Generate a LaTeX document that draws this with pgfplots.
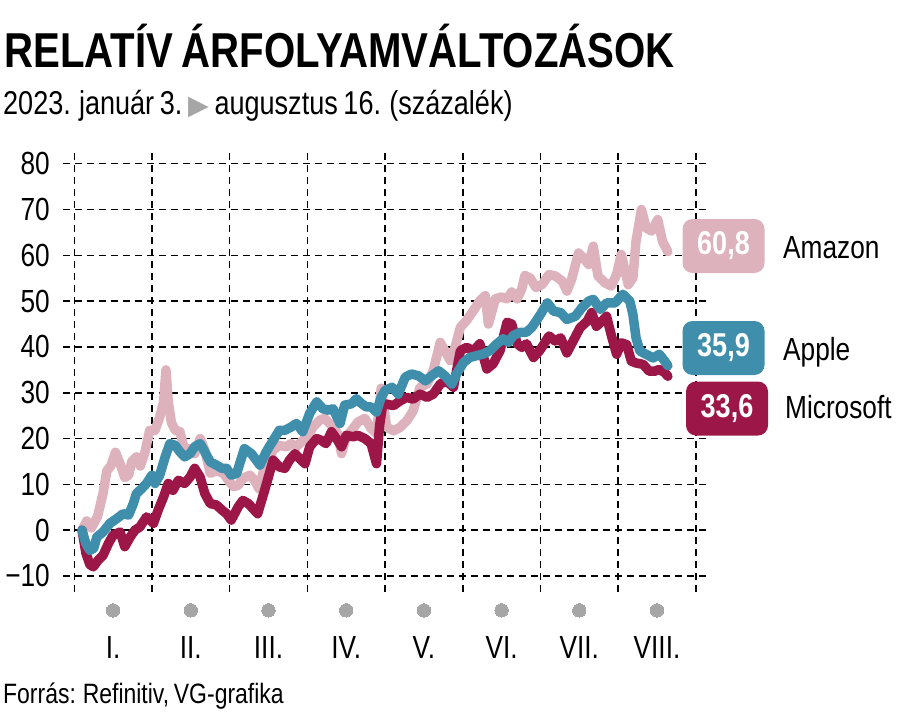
\documentclass[border=0pt]{standalone}
\usepackage{pgfplots}
\pgfplotsset{compat=1.18}
\usepackage{pgfplotstable}
\usepackage{fontspec}
\setmainfont{Liberation Sans}[FakeStretch=0.82, WordSpace=0.75]
\newfontfamily\symfont{DejaVu Sans}

\definecolor{amzn}{HTML}{DDB2BD}
\definecolor{aapl}{HTML}{3F8EAC}
\definecolor{msft}{HTML}{9C1747}
\definecolor{dotgray}{HTML}{A6A6A6}

% month index: 0 = jan 1, 1 = feb 1, ... ; value in %
\pgfplotstableread{
m v
0.10 0.0
0.16 2.0
0.22 0.5
0.30 3.0
0.37 8.0
0.42 13.0
0.47 14.0
0.53 17.0
0.59 14.5
0.65 11.5
0.70 12.0
0.74 15.0
0.80 16.0
0.85 14.0
0.91 17.0
0.97 21.8
1.04 21.8
1.10 24.7
1.15 28.0
1.18 35.0
1.21 28.0
1.25 23.5
1.30 21.8
1.36 21.5
1.42 17.5
1.49 17.8
1.55 16.7
1.62 20.0
1.68 17.5
1.75 12.4
1.83 13.0
1.92 12.4
2.00 10.5
2.05 9.5
2.11 9.8
2.17 11.3
2.26 12.0
2.32 10.9
2.38 9.0
2.45 14.0
2.56 17.5
2.64 18.5
2.73 18.2
2.79 18.9
2.86 18.2
2.94 19.6
3.01 20.4
3.07 22.5
3.16 24.0
3.22 24.4
3.31 22.9
3.39 21.1
3.44 16.7
3.50 20.4
3.57 21.8
3.65 23.6
3.74 24.4
3.82 22.2
3.89 21.1
3.95 31.0
4.02 22.5
4.11 21.7
4.19 22.4
4.28 23.9
4.36 26.0
4.45 31.2
4.54 31.9
4.62 34.8
4.71 41.0
4.77 39.2
4.84 37.0
4.90 39.9
4.97 44.3
5.05 45.8
5.14 48.0
5.22 50.1
5.29 51.2
5.33 45.0
5.42 50.5
5.50 50.9
5.57 50.5
5.63 52.0
5.70 50.5
5.76 52.7
5.80 55.6
5.87 55.0
5.94 53.0
6.02 53.6
6.11 55.8
6.19 55.5
6.28 54.4
6.34 52.2
6.40 54.7
6.49 60.5
6.55 59.5
6.62 58.0
6.68 62.0
6.74 55.5
6.83 54.0
6.91 53.3
6.98 55.8
7.04 60.2
7.13 53.6
7.19 55.1
7.23 63.1
7.30 70.0
7.36 66.0
7.43 65.3
7.51 67.8
7.57 63.1
7.64 60.8
}\amazon

\pgfplotstableread{
m v
0.10 0.0
0.15 -3.0
0.20 -4.4
0.25 -4.0
0.29 -1.5
0.37 -0.4
0.46 1.5
0.545 2.5
0.63 3.6
0.70 3.3
0.76 5.8
0.80 8.0
0.87 9.1
0.93 10.2
1.00 12.0
1.04 10.2
1.10 12.0
1.17 16.0
1.23 18.9
1.30 18.5
1.36 17.1
1.42 16.0
1.49 16.7
1.55 18.2
1.62 18.9
1.68 17.1
1.75 14.9
1.83 14.2
1.90 13.5
1.96 13.5
2.02 12.0
2.09 12.4
2.19 17.8
2.28 16.7
2.39 14.2
2.47 17.1
2.56 19.6
2.64 21.8
2.71 21.8
2.79 22.5
2.86 23.3
2.94 21.5
3.03 25.5
3.12 28.0
3.20 26.5
3.27 26.2
3.33 26.5
3.42 23.3
3.48 27.3
3.57 27.6
3.63 28.7
3.70 27.6
3.76 26.9
3.82 26.9
3.89 25.8
3.95 29.0
4.00 30.5
4.09 31.2
4.17 29.7
4.26 33.4
4.34 34.1
4.43 33.7
4.52 32.6
4.60 33.7
4.69 34.8
4.77 33.7
4.86 31.9
4.92 34.1
5.01 36.6
5.09 37.7
5.18 38.1
5.27 38.5
5.35 39.2
5.44 40.7
5.52 41.8
5.59 41.0
5.65 42.5
5.74 43.2
5.82 43.2
5.89 44.3
5.95 45.8
6.00 47.1
6.09 49.6
6.17 47.8
6.26 47.5
6.34 46.0
6.45 46.7
6.53 48.5
6.62 50.0
6.68 50.4
6.77 48.2
6.85 49.6
6.96 49.6
7.06 51.5
7.15 50.0
7.19 47.1
7.23 42.0
7.28 39.1
7.36 38.4
7.45 37.6
7.53 38.4
7.60 36.9
7.64 35.9
}\apple

\pgfplotstableread{
m v
0.10 0.0
0.15 -5.0
0.20 -7.5
0.245 -8.0
0.31 -6.5
0.37 -5.5
0.44 -2.9
0.50 -1.1
0.59 -0.4
0.65 -3.6
0.72 -1.5
0.78 0.0
0.845 0.7
0.93 2.9
1.02 1.5
1.08 4.4
1.15 7.3
1.21 10.2
1.27 8.7
1.34 10.9
1.42 10.2
1.49 11.6
1.55 13.5
1.62 11.6
1.68 8.0
1.75 5.8
1.83 5.5
1.90 4.4
1.96 3.6
2.02 2.2
2.11 5.1
2.17 6.5
2.24 5.8
2.30 4.7
2.36 3.6
2.45 8.7
2.56 15.3
2.64 13.8
2.71 13.5
2.77 15.3
2.84 16.7
2.92 15.3
2.97 14.5
3.03 18.2
3.12 20.0
3.18 19.6
3.24 18.9
3.31 21.5
3.39 19.6
3.44 18.2
3.50 20.7
3.59 20.4
3.65 20.7
3.74 20.0
3.82 18.9
3.89 14.5
3.93 22.9
3.97 27.5
4.02 27.5
4.11 27.2
4.19 28.2
4.28 29.0
4.36 28.6
4.45 29.7
4.54 29.0
4.62 29.7
4.71 31.9
4.79 32.6
4.88 31.2
4.97 39.2
5.05 39.9
5.14 39.2
5.22 40.7
5.31 35.2
5.39 36.3
5.48 39.2
5.57 45.4
5.63 45.0
5.70 40.7
5.76 39.9
5.82 40.7
5.91 37.7
5.99 39.2
6.04 40.5
6.11 42.4
6.19 41.3
6.26 42.0
6.34 38.7
6.43 41.6
6.51 44.2
6.60 45.6
6.66 47.5
6.72 44.5
6.79 45.6
6.85 46.7
6.91 42.7
6.98 38.4
7.04 40.9
7.11 40.5
7.17 36.9
7.23 36.5
7.32 36.2
7.40 34.7
7.47 34.7
7.53 35.1
7.60 34.4
7.64 33.6
}\microsoft

\begin{document}
\begin{tikzpicture}[x=1pt,y=1pt]
\path[use as bounding box] (0,0) rectangle (900,-725);

\node[anchor=base west, inner sep=0, font=\fontsize{49}{56}\selectfont\bfseries]
  at (4,-68) {RELATÍV ÁRFOLYAMVÁLTOZÁSOK};
\node[anchor=base west, inner sep=0, font=\fontsize{33}{38}\selectfont]
  at (3,-114) {2023. január 3.\ {\symfont\color{dotgray}\fontsize{27}{27}\selectfont ▶}\ augusztus 16. (százalék)};

\begin{axis}[
    at={(63pt,-592pt)}, anchor=south west,
    scale only axis,
    width=647.6pt, height=442pt,
    xmin=-0.145, xmax=8.19,
    ymin=-13.5, ymax=83,
    axis line style={draw=none},
    major tick length=0pt, minor tick length=0pt,
    ytick={-10,0,...,80},
    yticklabels={−10,0,10,20,30,40,50,60,70,80},
    xtick={0.5,1.5,...,7.5},
    xticklabels={I.,II.,III.,IV.,V.,VI.,VII.,VIII.},
    minor xtick={0,1,...,8},
    ymajorgrids=true, xminorgrids=true, xmajorgrids=false,
    grid style={black, line width=1.5pt, dash pattern=on 7pt off 5pt},
    minor grid style={black, line width=1.5pt, dash pattern=on 7pt off 5pt},
    yticklabel style={anchor=east, inner sep=0pt, xshift=-13pt, font=\fontsize{32}{36}\selectfont},
    xticklabel style={anchor=base, inner sep=0pt, yshift=-66pt, font=\fontsize{32}{36}\selectfont},
    clip=false,
    every axis plot/.append style={line width=9.5pt, line join=round, line cap=round},
]
\addplot[amzn, no markers] table[x=m, y=v] {\amazon};
\addplot[msft, no markers] table[x=m, y=v] {\microsoft};
\addplot[aapl, no markers] table[x=m, y=v] {\apple};
\addplot[only marks, mark=*, mark size=6.7pt, dotgray, mark options={draw=dotgray, fill=dotgray, line width=0pt}]
  coordinates {(0.5,-17.5) (1.5,-17.5) (2.5,-17.5) (3.5,-17.5) (4.5,-17.5) (5.5,-17.5) (6.5,-17.5) (7.5,-17.5)};
\end{axis}

\tikzset{valbox/.style={rounded corners=10pt, minimum width=82pt, minimum height=54pt,
    inner sep=0pt, text=white, font=\fontsize{33}{36}\selectfont\bfseries}}
\node[valbox, fill=amzn] at (723.5,-246) {60,8};
\node[valbox, fill=aapl] at (723.5,-348) {35,9};
\node[valbox, fill=msft] at (727,-408.5) {33,6};
\tikzset{namelbl/.style={anchor=base west, inner sep=0pt, font=\fontsize{32}{36}\selectfont}}
\node[namelbl] at (783,-258) {Amazon};
\node[namelbl] at (783,-360) {Apple};
\node[namelbl] at (785,-418) {Microsoft};

\node[anchor=base west, inner sep=0, font=\fontsize{28}{32}\selectfont]
  at (3,-703) {Forrás: Refinitiv, VG-grafika};
\end{tikzpicture}
\end{document}
